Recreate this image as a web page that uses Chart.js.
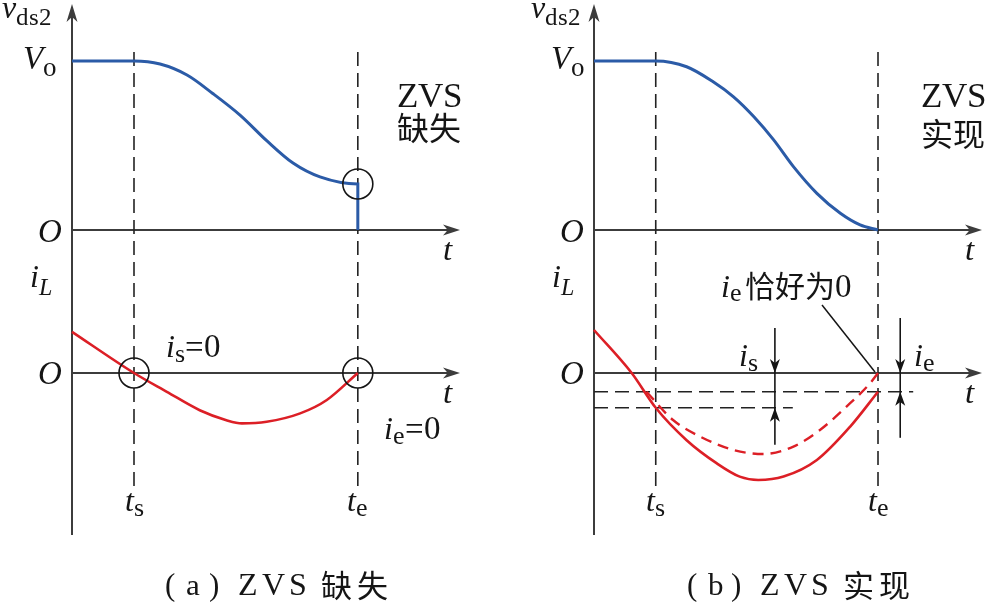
<!DOCTYPE html>
<html lang="en"><head><meta charset="utf-8">
<script src="https://cdn.jsdelivr.net/npm/chart.js@4/dist/chart.umd.min.js"></script>
<style>
@font-face{font-family:'RefSerif';font-style:normal;src:local('Liberation Serif'),local('LiberationSerif');}
@font-face{font-family:'RefSerif';font-style:italic;src:local('Liberation Serif Italic'),local('LiberationSerif-Italic');}
html,body{margin:0;padding:0;background:#fff;}
#wrap{position:relative;width:992px;height:603px;}
.lbl{position:absolute;display:flex;align-items:baseline;white-space:nowrap;color:#151515;line-height:1;pointer-events:none;}
.lbl span{line-height:1;}
.lat{font-family:'RefSerif','Liberation Serif',serif;}
.cjk{font-family:'Noto Sans CJK SC';}
</style>
</head><body><div id="wrap"><canvas id="c" width="992" height="603"></canvas></div>
<script>
// ---------- data (time units: t_s = 1; v normalised to Vo = 1) ----------
const tsVal = 1.0;
const teA = 4.61;
const teB = 4.6;
const vdsA_t = [0, 1.0, 1.42, 1.855, 2.27, 2.71, 3.145, 3.565, 4.0, 4.61, 4.61];
const vdsA_v = [1, 1, 0.982, 0.917, 0.808, 0.680, 0.527, 0.396, 0.314, 0.272, 0];
const iLA_t = [0, 1.0, 1.53, 2.06, 2.49, 2.74, 3.14, 3.68, 4.11, 4.61];
const iLA_i = [1.03, 0, -0.47, -0.93, -1.18, -1.26, -1.22, -1.01, -0.675, 0];
const vdsB_t = [0, 1.0, 1.50, 1.93, 2.26, 2.59, 2.91, 3.23, 3.61, 3.99, 4.31, 4.6];
const vdsB_v = [1, 1, 0.966, 0.877, 0.788, 0.670, 0.533, 0.375, 0.217, 0.099, 0.030, 0];
const iLB_t = [0, 0.61, 1.00, 1.50, 1.99, 2.36, 2.66, 3.07, 3.61, 4.15, 4.6];
const iLB_i = [1.075, 0, -0.87, -1.68, -2.26, -2.59, -2.675, -2.59, -2.175, -1.34, -0.47];
const iLB2_t = [0.85, 1.28, 1.72, 2.26, 2.74, 3.23, 3.66, 4.09, 4.47, 4.6];
const iLB2_i = [-0.47, -1.175, -1.59, -1.925, -2.025, -1.84, -1.425, -0.84, -0.26, 0];
const isLevel = -0.87;
const ieLevel = -0.47;

// ---------- layout (pixels) ----------
const W = 992, H = 603;
const LAY = {axA: 72, axB: 594, unitA: 62, unitB: 61.74, v0: 230, vUnit: 169, i0: 373, iUnit: 40};
const BLUE = '#2b5ba7', RED = '#dc1f26', AX = '#3c3c3c', INK = '#151515';

const pts = (xs, ys) => xs.map((x, k) => ({x: x, y: ys[k]}));
function ds(xs, ys, xid, yid, color, width, dash) {
  return {data: pts(xs, ys), xAxisID: xid, yAxisID: yid, borderColor: color, borderWidth: width,
    borderDash: dash || [], pointRadius: 0, fill: false, cubicInterpolationMode: 'monotone', borderCapStyle: 'butt'};
}

// ---------- text as HTML, placed by baseline ----------
const wrap = document.getElementById('wrap');
// part: [text, size, italic, dy, cjk, gapAfter, letterSpacing]
function label(x, base, parts, align) {
  const d = document.createElement('div');
  d.className = 'lbl';
  let maxA = 0;
  parts.forEach(p => {
    const s = document.createElement('span');
    s.textContent = p[0];
    s.className = p[4] ? 'cjk' : 'lat';
    s.lang = p[4] ? 'zh-CN' : 'en';
    s.style.fontSize = p[1] + 'px';
    if (p[2]) s.style.fontStyle = 'italic';
    if (p[3]) { s.style.position = 'relative'; s.style.top = p[3] + 'px'; }
    if (p[5]) s.style.marginRight = p[5] + 'px';
    if (p[6]) s.style.letterSpacing = p[6] + 'px';
    d.appendChild(s);
    maxA = Math.max(maxA, (p[4] ? 0.936 : 0.8375) * p[1]);
  });
  d.style.left = x + 'px';
  d.style.top = (base - maxA) + 'px';
  if (align === 'center') d.style.transform = 'translateX(-50%)';
  if (align === 'right') d.style.transform = 'translateX(-100%)';
  wrap.appendChild(d);
}

function arrow(ctx, x, y, dx, dy, len, half) {
  len = len || 16; half = half || 5.5;
  const px = -dy, py = dx;
  const bx = x - dx * len, by = y - dy * len;
  const nx = x - dx * len * 0.72, ny = y - dy * len * 0.72;
  ctx.beginPath(); ctx.moveTo(x, y);
  ctx.lineTo(bx + px * half, by + py * half); ctx.lineTo(nx, ny);
  ctx.lineTo(bx - px * half, by - py * half); ctx.closePath(); ctx.fill();
}
function seg(ctx, x1, y1, x2, y2, w, color, dash) {
  ctx.save(); ctx.strokeStyle = color; ctx.lineWidth = w; ctx.setLineDash(dash || []);
  ctx.beginPath(); ctx.moveTo(x1, y1); ctx.lineTo(x2, y2); ctx.stroke(); ctx.restore();
}

const panels = [
  {xid: 'xa', te: teA, tip: 460, circles: true},
  {xid: 'xb', te: teB, tip: 982, circles: false}
];

const deco = {
  id: 'deco',
  beforeDatasetsDraw(chart) {
    const ctx = chart.ctx, yV = chart.scales.yV, yI = chart.scales.yI;
    panels.forEach(p => {
      const xs = chart.scales[p.xid];
      const X0 = xs.getPixelForValue(0), yv0 = yV.getPixelForValue(0), yi0 = yI.getPixelForValue(0);
      ctx.save(); ctx.fillStyle = AX;
      seg(ctx, X0, 535, X0, 10, 2, AX);
      arrow(ctx, X0, 4, 0, -1, 18, 5.5);
      seg(ctx, X0, yv0, p.tip - 6, yv0, 2, AX);
      arrow(ctx, p.tip, yv0, 1, 0, 17, 5.5);
      seg(ctx, X0, yi0, p.tip - 6, yi0, 2, AX);
      arrow(ctx, p.tip, yi0, 1, 0, 17, 5.5);
      ctx.restore();
      [tsVal, p.te].forEach(t => {
        const x = xs.getPixelForValue(t);
        seg(ctx, x, 52, x, 490, 1.6, '#222', [14, 7]);
      });
      if (!p.circles) {
        const yie = yI.getPixelForValue(ieLevel), yis = yI.getPixelForValue(isLevel);
        seg(ctx, X0, yie, xs.getPixelForValue(5.17), yie, 1.6, '#222', [14, 7]);
        seg(ctx, X0, yis, xs.getPixelForValue(3.22), yis, 1.6, '#222', [14, 7]);
      }
    });
  },
  afterDatasetsDraw(chart) {
    const ctx = chart.ctx, yV = chart.scales.yV, yI = chart.scales.yI;
    ctx.save();
    ctx.fillStyle = INK; ctx.strokeStyle = INK;
    panels.forEach(p => {
      const xs = chart.scales[p.xid];
      const yi0 = yI.getPixelForValue(0);
      const xts = xs.getPixelForValue(tsVal), xte = xs.getPixelForValue(p.te);
      if (p.circles) {
        ctx.lineWidth = 1.6;
        [[xte, yV.getPixelForValue(vdsA_v[9])], [xts, yi0], [xte, yi0]].forEach(c => {
          ctx.beginPath(); ctx.arc(c[0], c[1], 15, 0, Math.PI * 2); ctx.stroke();
        });
      } else {
        const yie = yI.getPixelForValue(ieLevel), yis = yI.getPixelForValue(isLevel);
        const xis = xs.getPixelForValue(2.93), xie = xs.getPixelForValue(4.96);
        seg(ctx, xis, yi0 - 45, xis, yis + 37, 1.6, INK);
        arrow(ctx, xis, yi0, 0, 1, 14, 5); arrow(ctx, xis, yis, 0, -1, 14, 5);
        seg(ctx, xie, yi0 - 55, xie, yie + 46, 1.6, INK);
        arrow(ctx, xie, yi0, 0, 1, 14, 5); arrow(ctx, xie, yie, 0, -1, 14, 5);
        seg(ctx, 822, 305, xte - 3, yi0 - 1, 1.5, INK);
      }
    });
    ctx.restore();
  }
};

const chart = new Chart(document.getElementById('c'), {
  type: 'line',
  data: {datasets: [
    ds(vdsA_t, vdsA_v, 'xa', 'yV', BLUE, 3),
    ds(iLA_t, iLA_i, 'xa', 'yI', RED, 2.6),
    ds(vdsB_t, vdsB_v, 'xb', 'yV', BLUE, 3),
    ds(iLB_t, iLB_i, 'xb', 'yI', RED, 2.6),
    ds(iLB2_t, iLB2_i, 'xb', 'yI', RED, 2.4, [11, 7])
  ]},
  options: {
    responsive: false, animation: false, events: [],
    layout: {padding: 0},
    plugins: {legend: {display: false}, tooltip: {enabled: false}},
    scales: {
      xa: {type: 'linear', axis: 'x', position: 'bottom', display: false, bounds: 'data', min: -LAY.axA / LAY.unitA, max: (W - LAY.axA) / LAY.unitA},
      xb: {type: 'linear', axis: 'x', position: 'bottom', display: false, bounds: 'data', min: -LAY.axB / LAY.unitB, max: (W - LAY.axB) / LAY.unitB},
      yV: {type: 'linear', axis: 'y', position: 'left', display: false, bounds: 'data', min: -(H - LAY.v0) / LAY.vUnit, max: LAY.v0 / LAY.vUnit},
      yI: {type: 'linear', axis: 'y', position: 'left', display: false, bounds: 'data', min: -(H - LAY.i0) / LAY.iUnit, max: LAY.i0 / LAY.iUnit}
    }
  },
  plugins: [deco]
});

// ---------- labels ----------
(function () {
  const yV = chart.scales.yV, yI = chart.scales.yI;
  const yv0 = yV.getPixelForValue(0), yvo = yV.getPixelForValue(1), yi0 = yI.getPixelForValue(0);
  panels.forEach((p, k) => {
    const xs = chart.scales[p.xid];
    const X0 = xs.getPixelForValue(0);
    const xts = xs.getPixelForValue(tsVal), xte = xs.getPixelForValue(p.te);
    label(k ? X0 - 63 : X0 - 70, 18, [['v', 32, true], ['ds2', 25, false, 7]]);
    label(k ? X0 - 43 : X0 - 49, yvo + 9, [['V', 33, true], ['o', 27, false, 7]]);
    label(X0 - 10, yv0 + 13, [['O', 33, true]], 'right');
    label(X0 - 10, yi0 + 12, [['O', 33, true]], 'right');
    label(p.tip - 17, yv0 + 31, [['t', 33, true]]);
    label(p.tip - 17, yi0 + 31, [['t', 33, true]]);
    label(X0 - 42, 287, [['i', 32, true], ['L', 24, true, 8]]);
    label(xts, 511, [['t', 32, true], ['s', 26, false, 5]], 'center');
    label(xte, 511, [['t', 32, true], ['e', 26, false, 5]], 'center');
    if (p.circles) {
      label(166, 358, [['i', 32, true], ['s', 26, false, 5], ['=0', 33]]);
      label(384, 440, [['i', 32, true], ['e', 26, false, 5], ['=0', 33]]);
      label(397, 107, [['ZVS', 35]]);
      label(397, 140, [['缺失', 32, false, 0, true]]);
    } else {
      label(739, 366, [['i', 32, true], ['s', 26, false, 5]]);
      label(914, 366, [['i', 32, true], ['e', 26, false, 5]]);
      label(721, 297, [['i', 32, true], ['e', 26, false, 4, false, 3], ['恰好为', 30, false, 0, true], ['0', 33]]);
      label(921, 107, [['ZVS', 35]]);
      label(921, 146, [['实现', 32, false, 0, true]]);
    }
  });
  const capY = 595;
  [[165, 'a', '缺失'], [687, 'b', '实现']].forEach(c => {
    const x0 = c[0];
    label(x0, capY, [['(', 31]]);
    label(x0 + 21, capY, [[c[1], 31]]);
    label(x0 + 44, capY, [[')', 31]]);
    label(x0 + 73, capY, [['ZVS', 32, false, 0, false, 0, 4]]);
    label(x0 + 156, capY + 2, [[c[2], 31, false, 0, true, 0, 5]]);
  });
})();
</script></body></html>
